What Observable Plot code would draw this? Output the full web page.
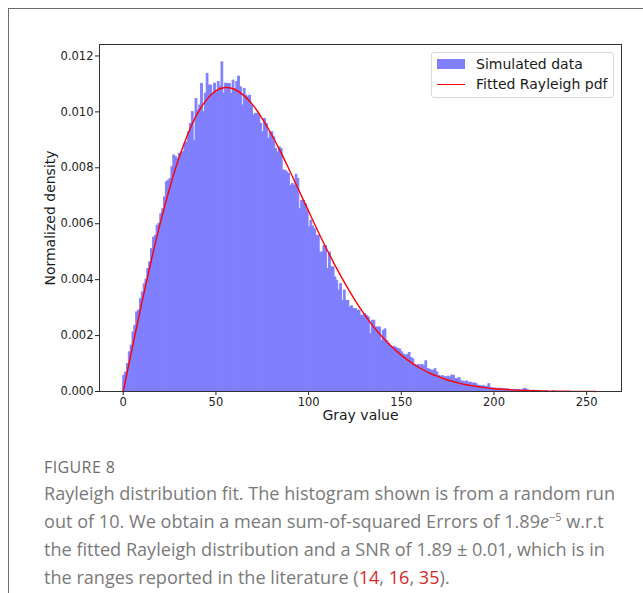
<!DOCTYPE html>
<html><head><meta charset="utf-8">
<script src="https://cdn.jsdelivr.net/npm/d3@7"></script>
<script src="https://cdn.jsdelivr.net/npm/@observablehq/plot@0.6"></script>
<style>
html,body{margin:0;padding:0;background:#fff;}
body{width:643px;height:593px;overflow:hidden;position:relative;font-family:"DejaVu Sans",sans-serif;}
#border{position:absolute;left:8px;top:8px;width:700px;height:700px;border-top:1px solid #6b6b6b;border-left:1px solid #6b6b6b;}
#chart{position:absolute;left:0;top:0;}
#legend{position:absolute;left:431px;top:52px;width:181px;height:44px;border:1px solid #d9d9d9;border-radius:3px;background:rgba(255,255,255,0.85);font-family:"DejaVu Sans";font-size:14px;color:#1a1a1a;}
#legend .row{position:absolute;left:0;height:16px;line-height:16px;white-space:nowrap;}
#legend .sw{position:absolute;left:5px;width:28px;}
#legend .lab{position:absolute;left:44px;top:0;}
#fig{position:absolute;left:44px;top:456px;font-family:"Open Sans",sans-serif;font-size:16px;color:#6e6e6e;letter-spacing:0.4px;}
.cap{position:absolute;left:44px;font-family:"Open Sans",sans-serif;font-size:18.1px;color:#7a7a7a;white-space:nowrap;line-height:20px;}
.cap .r{color:#d62a2a;}
</style>
</head><body>
<div id="border"></div>
<div id="chart"></div>
<div id="legend">
  <div class="row" style="top:3px;width:181px;"><div class="sw" style="top:3px;height:10px;background:#7f7fff;"></div><span class="lab">Simulated data</span></div>
  <div class="row" style="top:23px;width:181px;"><div class="sw" style="top:7.5px;height:1.5px;background:#ff0000;"></div><span class="lab">Fitted Rayleigh pdf</span></div>
</div>
<div id="fig">FIGURE 8</div>
<div class="cap" style="top:483px;">Rayleigh distribution fit. The histogram shown is from a random run</div>
<div class="cap" style="top:511px;">out of 10. We obtain a mean sum-of-squared Errors of 1.89<i>e</i><sup style="font-size:11px;line-height:0;">−5</sup> w.r.t</div>
<div class="cap" style="top:539px;">the fitted Rayleigh distribution and a SNR of 1.89 ± 0.01, which is in</div>
<div class="cap" style="top:567px;">the ranges reported in the literature (<span class="r">14</span>, <span class="r">16</span>, <span class="r">35</span>).</div>
<script>
// Histogram: normalized density per gray-value bin (bin i spans [i, i+1))
const histDensity = [
0.00056,0.00068,0.00098,0.00140,0.00164,0.00211,0.00235,0.00283,0.00289,0.00330,
0.00354,0.00383,0.00400,0.00438,0.00462,0.00509,0.00550,0.00557,0.00593,0.00600,
0.00634,0.00652,0.00694,0.00748,0.00754,0.00760,0.00802,0.00844,0.00838,0.00832,
0.00850,0.00852,0.00856,0.00885,0.00891,0.00927,0.00957,0.00999,0.00897,0.01046,
0.01005,0.01023,0.01100,0.00999,0.01065,0.01136,0.01094,0.01094,0.01065,0.01101,
0.01070,0.01107,0.01090,0.01177,0.01065,0.01101,0.01100,0.01100,0.01065,0.01112,
0.01082,0.01107,0.01126,0.01088,0.01023,0.01082,0.01058,0.01052,0.01058,0.01023,
0.00987,0.00993,0.00993,0.00987,0.00957,0.00927,0.00975,0.00957,0.00903,0.00927,
0.00927,0.00909,0.00867,0.00855,0.00873,0.00867,0.00790,0.00790,0.00784,0.00778,
0.00736,0.00742,0.00736,0.00775,0.00760,0.00652,0.00682,0.00682,0.00670,0.00646,
0.00587,0.00611,0.00590,0.00580,0.00557,0.00557,0.00497,0.00497,0.00520,0.00520,
0.00438,0.00497,0.00444,0.00444,0.00408,0.00396,0.00361,0.00384,0.00324,0.00361,
0.00324,0.00324,0.00300,0.00305,0.00295,0.00295,0.00289,0.00289,0.00271,0.00271,
0.00277,0.00271,0.00265,0.00205,0.00253,0.00253,0.00229,0.00229,0.00229,0.00180,
0.00217,0.00222,0.00180,0.00170,0.00162,0.00157,0.00160,0.00155,0.00152,0.00150,
0.00140,0.00132,0.00128,0.00130,0.00138,0.00120,0.00115,0.00095,0.00092,0.00095,
0.00092,0.00095,0.00090,0.00108,0.00080,0.00078,0.00075,0.00074,0.00080,0.00068,
0.00056,0.00053,0.00055,0.00052,0.00050,0.00053,0.00050,0.00057,0.00056,0.00045,
0.00044,0.00048,0.00036,0.00035,0.00033,0.00036,0.00030,0.00032,0.00028,0.00029,
0.00027,0.00021,0.00020,0.00018,0.00019,0.00017,0.00016,0.00026,0.00012,0.00011,
0.00010,0.00010,0.00009,0.00010,0.00008,0.00009,0.00007,0.00008,0.00006,0.00006,
0.00005,0.00006,0.00004,0.00005,0.00004,0.00004,0.00010,0.00008,0.00003,0.00003,
0.00002,0.00003,0.00002,0.00001,0.00002,0.00001,0.00000,0.00000,0.00001,0.00000,
0.00000,0.00000,0.00001
];
// Fitted Rayleigh pdf at every 5 gray values
const curveGray = [0,5,10,15,20,25,30,35,40,45,50,55,60,65,70,75,80,85,90,95,100,105,110,115,120,125,130,135,140,145,150,155,160,165,170,175,180,185,190,195,200,205,210,215,220,225,230,235,240,245,250,255];
const curveDensity = [0,0.00160,0.00316,0.00465,0.00602,0.00726,0.00834,0.00923,0.00994,0.01044,0.01075,0.01087,0.01081,0.01059,0.01024,0.00976,0.00919,0.00856,0.00787,0.00716,0.00645,0.00574,0.00506,0.00442,0.00382,0.00327,0.00277,0.00232,0.00193,0.00159,0.00130,0.00105,0.00084,0.00067,0.00053,0.00041,0.00032,0.00024,0.00019,0.00014,0.00010,0.000077,0.000057,0.000041,0.000030,0.000021,0.000015,0.000011,0.000007,0.000005,0.0000035,0.0000024];
const xTicks = [0,50,100,150,200,250];
const yTicks = [0,0.002,0.004,0.006,0.008,0.010,0.012];
const xLabel = "Gray value";
const yLabel = "Normalized density";

const bins = histDensity.map((d, i) => ({x1: i, x2: i + 1, y: d})).filter(b => b.y > 0);
const curve = curveGray.map((g, i) => ({x: g, y: curveDensity[i]}));

const chart = Plot.plot({
  width: 643, height: 430,
  marginLeft: 99, marginRight: 22, marginTop: 44, marginBottom: 39,
  style: {fontFamily: "DejaVu Sans", fontSize: "11.5px", color: "#222", background: "transparent"},
  x: {domain: [-12.8, 268.8], ticks: xTicks, tickSize: 4, tickPadding: 2, label: null},
  y: {domain: [0, 0.01241], ticks: yTicks, tickFormat: d3.format(".3f"), tickSize: 4, tickPadding: 2, label: null},
  marks: [
    Plot.rectY(bins, {x1: "x1", x2: "x2", y: "y", fill: "#7f7fff", stroke: "#7f7fff", strokeWidth: 0.9}),
    Plot.line(curve, {x: "x", y: "y", stroke: "#ff0000", strokeWidth: 1.4, curve: "natural"}),
    Plot.frame({stroke: "#333", strokeWidth: 1}),
    Plot.text([xLabel], {text: d => d, frameAnchor: "bottom", dy: 28, textAnchor: "middle", fontSize: 14, fill: "#1a1a1a"}),
    Plot.text([yLabel], {text: d => d, frameAnchor: "left", dx: -49, textAnchor: "middle", lineAnchor: "middle", rotate: -90, fontSize: 14, fill: "#1a1a1a"})
  ]
});
document.getElementById("chart").appendChild(chart);
</script>
</body></html>
